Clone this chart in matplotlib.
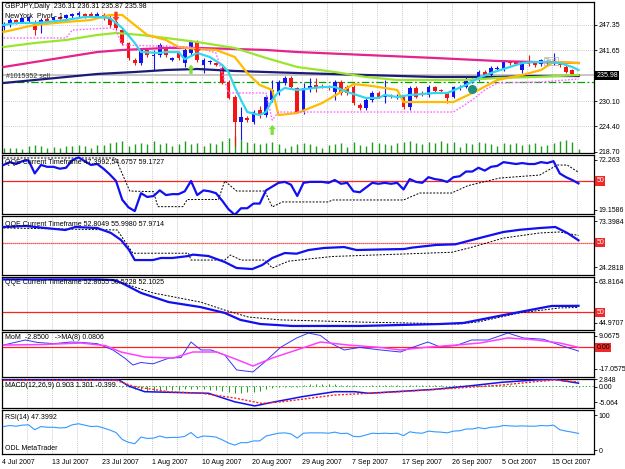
import matplotlib
matplotlib.use("Agg")
import matplotlib.pyplot as plt
from matplotlib.transforms import blended_transform_factory
import numpy as np

plt.rcParams["font.family"] = ["Liberation Sans", "DejaVu Sans"]
plt.rcParams["font.size"] = 5

# ---- GBPJPY daily candles, 4 Jul .. 19 Oct 2007 ----
opens = [246.90, 247.58, 248.48, 248.03, 248.25, 248.03, 247.35, 248.71, 248.48, 249.16,
         248.93, 249.39, 249.61, 249.84, 249.84, 249.16, 249.61, 248.93, 248.03, 246.22,
         243.28, 239.43, 238.75, 241.70, 240.34, 240.56, 242.37, 239.43, 241.02, 238.75,
         241.02, 243.50, 238.30, 238.98, 238.75, 237.62, 234.46, 231.06, 225.41, 226.31,
         225.41, 228.12, 226.99, 230.39, 231.97, 234.23, 235.36, 233.10, 227.67, 233.10,
         233.78, 233.55, 233.33, 232.20, 234.46, 233.33, 233.33, 229.25, 228.57, 230.39,
         231.97, 231.06, 231.29, 231.06, 231.06, 228.80, 233.10, 231.97, 231.52, 233.33,
         232.65, 231.97, 231.06, 233.10, 233.33, 234.68, 234.91, 236.72, 236.04, 237.40,
         237.17, 238.98, 238.98, 237.17, 238.98, 238.75, 238.53, 239.21, 238.75, 238.75,
         237.85, 237.17, 236.31]
highs = [248.03, 248.93, 248.71, 249.16, 249.39, 248.48, 248.93, 249.16, 249.39, 249.39,
         249.84, 250.06, 250.52, 250.06, 250.29, 250.29, 250.06, 249.84, 248.48, 246.90,
         243.50, 239.89, 242.15, 242.15, 241.70, 243.28, 242.83, 240.11, 241.47, 242.15,
         243.96, 243.96, 239.89, 239.43, 238.98, 238.08, 234.91, 231.52, 228.80, 226.77,
         228.12, 229.03, 231.52, 234.91, 234.91, 235.81, 235.81, 233.33, 234.23, 235.36,
         235.36, 234.00, 233.78, 234.91, 234.91, 233.78, 233.78, 229.71, 230.84, 232.42,
         232.42, 234.91, 231.74, 231.74, 231.52, 233.55, 233.55, 232.42, 233.78, 233.55,
         232.88, 232.20, 233.55, 233.78, 235.59, 235.36, 237.17, 237.17, 238.08, 238.08,
         239.43, 239.21, 239.21, 239.21, 240.56, 239.21, 239.66, 239.43, 241.02, 238.98,
         238.30, 237.40, 236.31]
lows = [246.22, 246.90, 247.58, 247.80, 248.03, 245.09, 245.54, 247.58, 248.03, 248.25,
        248.48, 248.93, 249.16, 248.93, 249.16, 248.93, 248.48, 246.90, 246.22, 242.83,
        239.43, 238.30, 238.30, 240.11, 237.17, 240.11, 240.11, 239.21, 239.43, 237.85,
        240.56, 238.98, 236.49, 238.53, 238.08, 234.00, 230.61, 220.00, 221.34, 225.41,
        224.96, 226.31, 226.54, 229.93, 231.52, 233.78, 233.10, 227.44, 227.22, 232.20,
        232.20, 233.10, 232.65, 230.39, 231.52, 231.52, 229.25, 228.12, 228.12, 229.93,
        230.84, 229.71, 230.84, 230.61, 228.35, 228.12, 230.84, 231.29, 231.06, 232.20,
        231.97, 229.71, 230.84, 232.65, 233.10, 234.23, 234.68, 235.13, 235.81, 236.95,
        236.95, 238.30, 238.30, 236.49, 238.08, 237.85, 238.08, 238.08, 238.30, 237.85,
        236.49, 236.04, 235.87]
closes = [247.58, 248.48, 247.80, 248.93, 249.16, 246.22, 248.48, 248.25, 249.16, 248.71,
          249.61, 249.84, 250.06, 249.39, 249.39, 249.84, 248.93, 247.35, 246.67, 243.28,
          239.89, 238.75, 241.70, 240.56, 240.56, 242.83, 240.56, 239.89, 239.89, 241.70,
          243.50, 239.43, 239.43, 239.21, 238.30, 234.23, 230.84, 225.41, 226.54, 225.86,
          227.67, 226.99, 231.06, 232.65, 234.46, 235.36, 233.33, 227.67, 233.10, 233.55,
          233.10, 233.33, 233.10, 234.46, 231.97, 231.97, 229.71, 228.57, 230.39, 231.97,
          231.06, 231.29, 231.06, 231.29, 228.80, 233.10, 231.06, 231.74, 233.33, 232.42,
          232.42, 230.84, 233.33, 233.33, 235.13, 234.91, 236.72, 235.36, 237.62, 237.62,
          238.98, 238.75, 238.53, 238.98, 238.53, 238.30, 239.43, 238.75, 239.21, 238.30,
          236.72, 236.27, 235.98]
volume = [500, 500, 500, 400, 700, 800, 700, 500, 600, 500,
          700, 700, 800, 700, 500, 800, 800, 1000, 1100, 1200,
          700, 900, 1000, 900, 1200, 900, 1000, 700, 900, 1200,
          900, 1000, 700, 1000, 900, 1200, 1500, 1700, 1300, 1100,
          1000, 900, 1000, 1100, 900, 500, 700, 900, 1000, 900,
          700, 500, 800, 900, 1000, 600, 1100, 800, 700, 1100,
          1000, 900, 800, 1000, 1100, 1200, 1000, 900, 1100, 1000,
          1200, 1000, 1100, 600, 1000, 900, 1100, 1000, 900, 700,
          1000, 900, 1000, 800, 900, 1000, 700, 800, 1000, 1200,
          1300, 1100, 400]

date_bars = [0, 8, 16, 24, 32, 40, 48, 56, 64, 72, 80, 88]
date_labels = ["4 Jul 2007", "13 Jul 2007", "23 Jul 2007", "1 Aug 2007", "10 Aug 2007",
               "20 Aug 2007", "29 Aug 2007", "7 Sep 2007", "17 Sep 2007", "26 Sep 2007",
               "5 Oct 2007", "15 Oct 2007"]

# ---- main-window indicator lines (bar, price) ----
cyan_x = [0, 2, 5, 7, 10, 13, 15, 17, 19, 21, 22, 25, 26, 28, 29, 31, 33, 35, 36, 37, 38, 39,
          41, 42, 43, 44, 45, 47, 51, 53, 55, 58, 60, 61, 63, 65, 69, 71, 74, 76, 78, 81, 83,
          85, 87, 89, 91, 92]
cyan_y = [247.35, 247.80, 247.80, 248.03, 248.48, 249.16, 249.16, 248.93, 246.67, 243.28,
          241.24, 241.02, 241.24, 241.24, 239.60, 241.02, 240.11, 238.30, 236.72, 233.33,
          230.39, 227.67, 226.99, 227.67, 230.39, 232.20, 233.10, 232.65, 233.33, 233.33,
          232.20, 230.84, 230.84, 231.52, 231.06, 231.52, 231.97, 231.97, 233.78, 235.36,
          236.49, 237.85, 238.75, 238.98, 238.98, 238.75, 237.85, 237.17]
orange_x = [0, 5, 10, 14, 17, 19, 21, 23, 26, 28, 31, 34, 37, 39, 41, 43, 44, 47, 51, 54, 56,
            59, 63, 64, 72, 76, 79, 83, 86, 88, 92]
orange_y = [245.77, 247.35, 248.03, 248.48, 249.61, 249.61, 247.35, 245.09, 243.96, 242.37,
            241.92, 241.70, 240.11, 236.49, 233.78, 232.65, 226.99, 227.44, 229.71, 232.20,
            234.00, 233.55, 232.65, 229.93, 229.93, 232.65, 234.91, 236.04, 237.17, 238.98,
            238.75]
lime_x = [0, 5, 10, 15, 18, 22, 26, 31, 37, 42, 47, 53, 58, 63, 74, 79, 85, 92]
lime_y = [242.37, 243.28, 243.96, 245.09, 245.54, 245.09, 244.41, 243.50, 242.15, 239.89,
          237.85, 236.72, 235.59, 234.91, 234.91, 235.36, 235.59, 236.04]
pink_x = [0, 5, 10, 15, 19, 26, 31, 37, 42, 47, 58, 69, 79, 85, 92]
pink_y = [237.85, 238.98, 240.11, 241.24, 241.70, 242.15, 242.15, 241.92, 241.70, 241.24,
          240.56, 239.89, 239.21, 238.98, 238.75]
navy_x = [0, 5, 10, 15, 21, 26, 31, 37, 42, 47, 58, 69, 79, 85, 92]
navy_y = [234.23, 234.91, 235.59, 236.27, 236.72, 237.17, 237.40, 236.95, 236.72, 236.49,
          236.04, 235.59, 235.59, 235.81, 235.81]
stop_x = [0, 10, 11, 17, 18, 19, 30, 32, 34, 36, 42, 43, 44, 72, 75, 77, 79, 86, 92]
stop_y = [244.41, 244.41, 246.22, 246.67, 246.22, 242.83, 242.37, 241.92, 241.02, 231.97,
          231.97, 225.86, 227.67, 227.67, 230.39, 232.65, 234.23, 234.46, 235.13]
bid_price = 235.98
order_price = 234.50

# ---- sub-window indicators ----
rsi14 = [67, 70, 68, 71, 72, 58, 67, 65, 65, 63,
         64, 72, 75, 71, 67, 68, 63, 57, 50, 30,
         22, 18, 37, 33, 34, 40, 35, 36, 36, 39,
         50, 35, 40, 39, 37, 29, 20, 14, 21, 21,
         26, 26, 40, 44, 48, 49, 46, 34, 48, 49,
         49, 49, 48, 51, 47, 48, 39, 38, 43, 48,
         47, 48, 47, 48, 41, 52, 49, 48, 54, 52,
         51, 49, 54, 55, 60, 60, 64, 61, 65, 66,
         70, 69, 68, 69, 68, 68, 70, 69, 71, 58,
         54, 51, 47.3992]
q1_trail_x = [0, 17.9, 20.2, 24, 24.7, 28.7, 29.4, 34.4, 35.4, 37.3, 41.8, 43, 44.6, 52, 52.6,
              64, 66.6, 71.7, 74.3, 79.4, 85.8, 88.6, 90.2, 92]
q1_trail = [74.4, 74.4, 39.3, 38.6, 22.7, 22.7, 30.3, 30.3, 50.0, 39.3, 39.3, 22.4, 27.7, 27.7,
            29.8, 29.8, 37.2, 37.2, 45.0, 53.1, 56.3, 66.9, 66.9, 59.17]
q2_x = [0, 3.5, 6.7, 9.9, 11.5, 15, 17.2, 18.8, 20.1, 21, 23.9, 25.2, 27, 29.6, 30.3, 32.8,
        35.4, 37.3, 39.8, 41.4, 43, 45, 46.9, 48.8, 51.3, 54.5, 56.5, 60.3, 64.1, 65.4, 69.2,
        72.3, 74.3, 76.8, 80, 82.6, 85.8, 88.3, 90.2, 92]
q2_rsi = [67.0, 68.1, 65.9, 63.8, 67.0, 65.9, 60.6, 53.1, 42.4, 31.7, 31.7, 33.9, 33.9, 36.0,
          37.5, 36.0, 29.6, 23.2, 22.1, 26.4, 33.9, 39.2, 38.5, 42.4, 44.6, 45.6, 42.4, 43.0,
          43.5, 45.0, 47.8, 48.5, 52.0, 56.3, 61.7, 64.0, 65.9, 67.0, 60.6, 52.8049]
q2_trail_x = [0, 18.2, 20.7, 29.6, 30, 35.4, 36.3, 38, 41.8, 43, 45.6, 52.6, 71.7, 74.9, 80,
              85.8, 89, 92]
q2_trail = [66.0, 63.8, 39.0, 39.0, 31.7, 31.7, 37.1, 31.7, 31.7, 23.2, 30.5, 35.5, 40.0, 45.3,
            55.2, 60.6, 61.7, 57.9714]
q3_x = [0, 15, 17.6, 18.9, 22, 26.4, 31.5, 35.4, 37.9, 41.1, 46.2, 57.1, 69.8, 73.6, 80, 85.1,
        87.7, 92]
q3_rsi = [65.0, 65.0, 64.7, 63.4, 58.8, 54.6, 52.3, 49.6, 46.4, 44.5, 43.6, 43.6, 44.5, 45.0,
          48.6, 51.4, 52.8, 52.8655]
q3_trail_x = [0, 18, 19, 23.9, 31.5, 35.4, 39.2, 44.3, 57, 73, 76, 82.6, 89, 92]
q3_trail = [65.0, 64.6, 63.4, 58.8, 54.6, 50.9, 47.7, 46.4, 45.4, 44.5, 45.5, 49.6, 51.9, 52.1025]
mom_x = [0, 3.5, 5.4, 8, 10.8, 12.4, 15, 17.5, 19.4, 20.7, 22, 23.9, 26.5, 28.4, 30, 31.6, 33.2,
         35.4, 37.3, 39.9, 41.8, 44.3, 46.9, 48.8, 50.7, 52.3, 54.5, 57, 60.3, 63.5, 65.4, 67.9,
         69.8, 72.4, 74.9, 77.5, 80.7, 83.2, 86.4, 89, 92]
mom = [1.9, 5.9, 4.0, 3.0, 4.3, 4.0, 3.0, -2.0, -8.4, -13.9, -11.9, -13.0, -8.4, -8.0, 4.3, -2.0,
       -2.0, -6.0, -17.8, -19.4, -11.5, 0.0, 7.5, 11.4, 9.5, 3.5, -2.0, 0.0, -2.0, -3.6, 0.0,
       4.3, 0.5, 1.5, 5.9, 5.9, 11.4, 7.5, 6.5, 1.9, -2.85]
mom_ma_x = [0, 6.1, 12.4, 16.3, 18.8, 22.6, 27.1, 30.3, 34.1, 37.3, 39.9, 43, 46.9, 50.7, 55.2,
            60.3, 63.5, 67.3, 72.4, 76.2, 80.7, 85.1, 89, 92]
mom_ma = [1.9, 2.3, 3.5, 1.5, -3.6, -7.6, -8.4, -3.6, -3.6, -9.5, -14.7, -8.4, -2.0, 4.3, 1.9,
          0.0, -2.0, 0.0, 1.9, 3.5, 7.5, 6.0, 3.5, 0.0806]
macd_x = [0, 18.5, 20, 22.6, 32.8, 37, 40.2, 43.4, 45.6, 47.7, 53, 56.2, 58.4, 69, 74.4, 79.7,
          85, 88.2, 92]
macd = [1.9, 1.9, 0.0, -1.8, -2.3, -5.0, -6.3, -5.0, -4.2, -3.4, -1.8, -1.8, -2.3, -1.05, 0.0,
        1.17, 1.9, 2.1, 0.903]
signal_x = [0, 18, 21, 26.4, 31.7, 37, 41.3, 44.5, 47.7, 53, 63.7, 74.4, 79.7, 85, 88.2, 92]
signal = [1.8, 1.8, -0.2, -1.8, -2.3, -3.8, -5.5, -5.0, -4.2, -2.85, -1.8, -0.4, 0.3, 1.36, 1.9,
          1.301]
osma = [0.1, 0.1, 0.1, 0.1, 0.1, 0.1, 0.1, 0.1, 0.1, 0.1,
        0.1, 0.1, 0.1, 0.1, 0.1, 0.1, 0.1, 0.1, 0.1, -0.2,
        -0.4, -0.8, -1.2, -1.5, -1.6, -1.5, -1.4, -1.3, -1.2, -1.0,
        -0.8, -1.0, -1.1, -1.2, -1.3, -1.6, -1.9, -2.2, -2.2, -2.0,
        -1.8, -1.5, -1.1, -0.7, -0.4, -0.2, -0.3, -0.4, 0.3, 0.5,
        0.6, 0.6, 0.5, 0.5, 0.4, 0.4, 0.2, 0.1, 0.1, 0.2,
        0.2, 0.3, 0.2, 0.2, 0.1, 0.3, 0.2, 0.2, 0.3, 0.2,
        0.2, 0.1, 0.3, 0.3, 0.4, 0.3, 0.4, 0.3, 0.3, 0.3,
        0.3, 0.2, 0.2, 0.2, 0.1, 0.1, 0.1, 0.1, 0.1, -0.1,
        -0.2, -0.3, -0.399]

W, H = 625, 469
LEFT, RIGHT = 2, 594
XMIN, XMAX = -0.24, 94.48
BULL, BEAR = "#1414EE", "#F41414"
GRID = "#BBBBBB"


def make_panel(fig, top, bottom, ylim, ticks, labels):
    """One MT4 window, positioned in screen pixels."""
    ax = fig.add_axes([LEFT / W, 1 - bottom / H, (RIGHT - LEFT) / W, (bottom - top) / H])
    ax.set_xlim(XMIN, XMAX)
    ax.set_ylim(*ylim)
    ax.set_xticks([])
    ax.yaxis.tick_right()
    ax.set_yticks(ticks, labels)
    ax.tick_params(axis="y", length=2, width=0.6, pad=1.5, labelsize=5)
    for s in ax.spines.values():
        s.set_linewidth(0.9)
    for g in range(0, 95, 4):
        ax.axvline(g - 0.24, color=GRID, lw=0.5, ls=(0, (1.5, 1.5)), zorder=0)
    return ax


def header(ax, text, dy):
    ax.annotate(text, xy=(0, 1), xycoords="axes fraction", xytext=(3, dy),
                textcoords="offset pixels", va="center", ha="left", fontsize=5, zorder=10)


def value_box(ax, y, text, face, fg="white"):
    tr = blended_transform_factory(ax.transAxes, ax.transData)
    ax.text(1.004, y, text, transform=tr, ha="left", va="center", color=fg, fontsize=5,
            bbox=dict(boxstyle="square,pad=0.15", fc=face, ec="none"), clip_on=False, zorder=10)


def arrow(ax, x, tip, tail, color):
    ax.annotate("", xy=(x, tip), xytext=(x, tail),
                arrowprops=dict(arrowstyle="simple,head_length=0.55,head_width=0.9,tail_width=0.4",
                                fc=color, ec=color, lw=0.3, shrinkA=0, shrinkB=0), zorder=8)


fig = plt.figure(figsize=(W / 100, H / 100), dpi=100)
idx = np.arange(len(closes))

# ---- main window ----
ax = make_panel(fig, 2, 153, (218.40, 252.55),
                [247.35, 241.65, 230.10, 224.40, 218.70],
                ["247.35", "241.65", "230.10", "224.40", "218.70"])
for p in [247.35, 241.65, 235.95, 230.10, 224.40]:
    ax.axhline(p, color=GRID, lw=0.5, ls=(0, (1.5, 1.5)), zorder=0)

xfrac = blended_transform_factory(ax.transData, ax.transAxes)
ax.vlines(idx, 0, np.array(volume) / 15000, colors="#1E9E1E", lw=1.0, transform=xfrac, zorder=1)

ax.axhline(bid_price, color="#C4C4C4", lw=1.3, zorder=1.5)
ax.axhline(order_price, color="#00A000", lw=0.9, ls=(0, (6, 2, 1.5, 2)), zorder=1.6)

o, c = np.array(opens), np.array(closes)
col = np.where(c >= o, BULL, BEAR)
ax.vlines(idx, lows, highs, colors=col, lw=0.8, zorder=3)
ax.bar(idx, np.maximum(np.abs(c - o), 0.18), bottom=np.minimum(o, c), width=0.6,
       color=col, lw=0, zorder=4)

ax.plot(navy_x, navy_y, color="#1B1B78", lw=1.6, zorder=5)
ax.plot(pink_x, pink_y, color="#E6228C", lw=1.6, zorder=5)
ax.plot(lime_x, lime_y, color="#9AE62E", lw=1.6, zorder=5)
ax.plot(orange_x, orange_y, color="#FFBB00", lw=1.6, zorder=5)
ax.plot(cyan_x, cyan_y, color="#2FD8EE", lw=1.6, zorder=6)
ax.plot(stop_x, stop_y, color="#FF66FF", lw=1.0, ls=(0, (1.2, 1.2)), zorder=6)

arrow(ax, 30, 238.3, 236.3, "#7FE03A")
arrow(ax, 43, 224.7, 222.5, "#7FE03A")
arrow(ax, 18, 248.25, 250.3, "#FF3322")
arrow(ax, 31, 241.0, 243.05, "#FF3322")
ax.plot([75], [232.87], "o", ms=5.5, color="#1F8F80", zorder=8)
ax.text(87.6, 239.2, "Text", color="#A0A0A0", fontsize=5, ha="center", va="center", zorder=8,
        bbox=dict(boxstyle="square,pad=0.1", fc="none", ec="#B0B0B0", lw=0.5))

header(ax, "GBPJPY,Daily  236.31 236.31 235.87 235.98", -5)
header(ax, "NewYork  Pivot - 1", -14)
ax.annotate("#1015352 sell", xy=(0, order_price), xycoords=("axes fraction", "data"),
            xytext=(4, 5), textcoords="offset pixels", va="center", fontsize=5,
            color="#333333", zorder=9)
value_box(ax, bid_price, "235.98", "black")

# ---- QQE #1 ----
q1 = make_panel(fig, 155, 214, (14.91, 77.57), [72.263, 19.1586], ["72.263", "19.1586"])
q1.axhline(50, color="#FF2020", lw=0.9, zorder=2)
q1.plot(q1_trail_x, q1_trail, color="black", lw=0.7, ls=(0, (2, 1.5)), zorder=3)
q1.plot(idx, rsi14, color="#1010F0", lw=1.6, zorder=4)
header(q1, "QQE Current Timeframe 47.3992,54.6757 59.1727", -7)
value_box(q1, 50, "50", "#F02828")

# ---- QQE #2 ----
q2 = make_panel(fig, 216, 275, (15.74, 78.74), [73.3984, 24.2818], ["73.3984", "24.2818"])
q2.axhline(50, color="#FF2020", lw=0.9, ls=(0, (1, 0.6)), zorder=2)
q2.plot(q2_trail_x, q2_trail, color="black", lw=0.7, ls=(0, (2, 1.5)), zorder=3)
q2.plot(q2_x, q2_rsi, color="#1010F0", lw=1.6, zorder=4)
header(q2, "QQE Current Timeframe 52.8049 55.9980 57.9714", -8)
value_box(q2, 50, "50", "#F02828")

# ---- QQE #3 ----
q3 = make_panel(fig, 277, 330, (41.75, 66.11), [63.8164, 44.9707], ["63.8164", "44.9707"])
q3.axhline(50, color="#FF2020", lw=0.9, zorder=2)
q3.plot(q3_trail_x, q3_trail, color="black", lw=0.7, ls=(0, (2, 1.5)), zorder=3)
q3.plot(q3_x, q3_rsi, color="#1010F0", lw=1.6, zorder=4)
header(q3, "QQE Current Timeframe 52.8655 50.5228 52.1025", -6)
value_box(q3, 50, "50", "#F02828")

# ---- Momentum ----
mm = make_panel(fig, 332, 377, (-23.39, 12.23), [9.0675, -17.0575], ["9.0675", "-17.0575"])
mm.axhline(0, color="#FF2020", lw=0.9, zorder=2)
mm.plot(mom_x, mom, color="#3535F5", lw=0.7, zorder=3)
mm.plot(mom_ma_x, mom_ma, color="#FF40FF", lw=1.1, zorder=4)
header(mm, "MoM  -2.8500   ->MA(8) 0.0806", -5)
value_box(mm, 0, "0.00", "#F02828", fg="black")

# ---- MACD ----
# top label sits at the window's upper edge, zero label just under it
md = make_panel(fig, 379, 408, (-6.96, 2.22), [2.2, -0.3, -5.064], ["2.848", "0.00", "-5.064"])
md.axhline(0, color="#00A000", lw=0.6, ls=(0, (1.5, 2.5)), zorder=1)
md.vlines(idx, 0, osma, colors="#1E9E1E", lw=0.7, zorder=2)
md.plot(macd_x, macd, color="#1010F0", lw=1.1, zorder=3)
md.plot(signal_x, signal, color="#FF2020", lw=1.0, ls=(0, (1.5, 1.2)), zorder=4)
header(md, "MACD(12,26,9) 0.903 1.301 -0.399", -6.5)

# ---- RSI ----
rs = make_panel(fig, 410, 454, (-11.4, 114.3), [100, 0], ["100", "0"])
rs.plot(idx, rsi14, color="#3399FF", lw=0.8, zorder=3)
header(rs, "RSI(14) 47.3992", -7)
rs.annotate("ODL MetaTrader", xy=(0, 0), xycoords="axes fraction", xytext=(3, 6),
            textcoords="offset pixels", va="center", ha="left", fontsize=5)
for b, lab in zip(date_bars, date_labels):
    rs.annotate(lab, xy=(b, 0), xycoords=("data", "axes fraction"), xytext=(-1.5, -8),
                textcoords="offset pixels", ha="left", va="center", fontsize=5)

fig.savefig("out.png", dpi=100)
